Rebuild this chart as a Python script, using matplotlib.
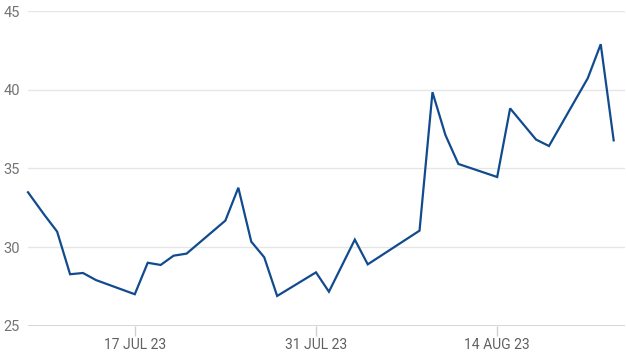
import matplotlib
matplotlib.use("Agg")
import matplotlib.pyplot as plt
import pandas as pd

dates = ["2023-07-08T18:00", "2023-07-10", "2023-07-11", "2023-07-12", "2023-07-13",
         "2023-07-14", "2023-07-17", "2023-07-18", "2023-07-19", "2023-07-20",
         "2023-07-21", "2023-07-24", "2023-07-25", "2023-07-26", "2023-07-27",
         "2023-07-28", "2023-07-31", "2023-08-01", "2023-08-03", "2023-08-04",
         "2023-08-08", "2023-08-09", "2023-08-10", "2023-08-11", "2023-08-14",
         "2023-08-15", "2023-08-17", "2023-08-18", "2023-08-21", "2023-08-22",
         "2023-08-23"]
values = [33.48, 32.06, 30.98, 28.27, 28.35,
          27.90, 27.00, 29.00, 28.86, 29.45,
          29.58, 31.68, 33.77, 30.34, 29.35,
          26.89, 28.39, 27.16, 30.47, 28.90,
          31.04, 39.84, 37.12, 35.28, 34.45,
          38.81, 36.83, 36.42, 40.73, 42.89,
          36.78]
x_ticks = ["2023-07-17", "2023-07-31", "2023-08-14"]
x_tick_labels = ["17 JUL 23", "31 JUL 23", "14 AUG 23"]
y_ticks = [25, 30, 35, 40, 45]

plt.rcParams['font.family'] = ['Roboto', 'DejaVu Sans']

W, H = 626, 356
fig = plt.figure(figsize=(W / 100, H / 100), dpi=100)
left, right, top, bottom = 28, 625, 11, 325.7
ax = fig.add_axes([left / W, 1 - bottom / H, (right - left) / W, (bottom - top) / H])

d = pd.to_datetime(dates, format="ISO8601")
ax.plot(d, values, color="#114b8e", lw=1.6, solid_joinstyle="miter", clip_on=False, zorder=3)

ax.set_xlim(pd.Timestamp("2023-07-08T18:00"), pd.Timestamp("2023-08-23T21:00"))
ax.set_ylim(25, 45)

ax.set_yticks(y_ticks)
ax.set_yticklabels([str(v) for v in y_ticks])
ax.set_xticks(pd.to_datetime(x_ticks))
ax.set_xticklabels(x_tick_labels)

for s in ax.spines.values():
    s.set_visible(False)

ax.grid(axis="y", color="#e6e6e6", lw=1.0)
ax.axhline(25, color="#d0d0d0", lw=1.2, zorder=2)
ax.set_axisbelow(True)

ax.tick_params(axis="y", length=0, pad=6, labelsize=10.5, labelcolor="#737373")
ax.tick_params(axis="x", length=7, width=1, color="#d0d0d0", pad=2, labelsize=10, labelcolor="#606060")

fig.savefig("out.png", dpi=100, facecolor="white")
